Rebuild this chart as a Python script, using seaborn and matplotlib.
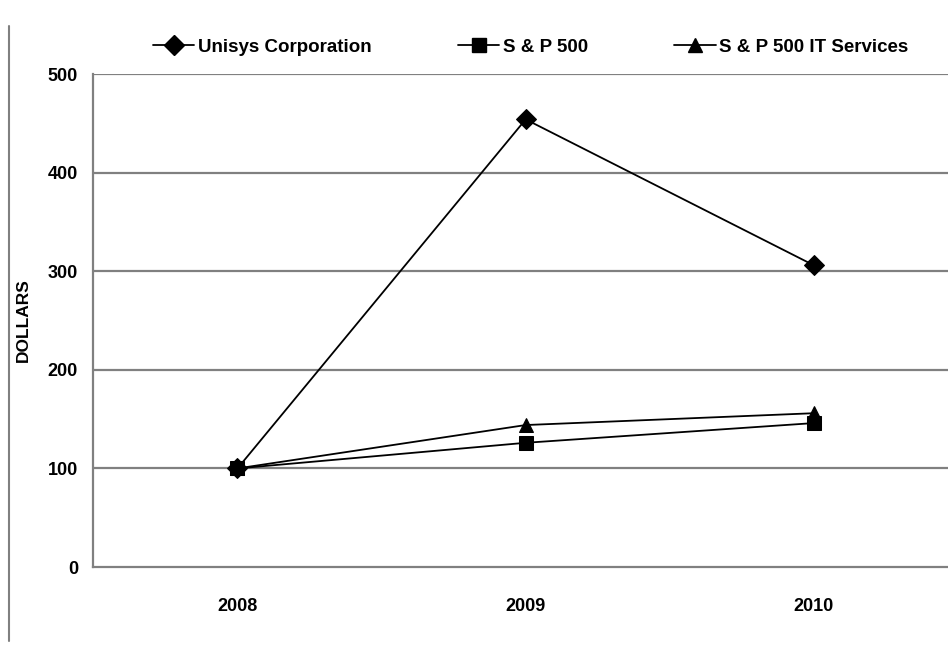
import numpy as np
import pandas as pd
import seaborn as sns
import matplotlib.pyplot as plt
from matplotlib.lines import Line2D

years = ['2008', '2009', '2010']
unisys = [100, 454, 306]
sp500 = [100, 126, 146]
sp500_it = [100, 144, 156]
series_names = ['Unisys Corporation', 'S & P 500', 'S & P 500 IT Services']
y_ticks = [0, 100, 200, 300, 400, 500]

df = pd.DataFrame({
    'year': years * 3,
    'value': unisys + sp500 + sp500_it,
    'series': [series_names[0]] * 3 + [series_names[1]] * 3 + [series_names[2]] * 3,
})
df['pos'] = df['year'].map({y: i for i, y in enumerate(years)})

sns.set_style('white')
plt.rcParams['font.family'] = ['Liberation Sans', 'DejaVu Sans']
plt.rcParams['font.weight'] = 'bold'
plt.rcParams['text.color'] = 'black'
plt.rcParams['xtick.labelcolor'] = 'black'
plt.rcParams['ytick.labelcolor'] = 'black'
plt.rcParams['axes.labelcolor'] = 'black'

fig = plt.figure(figsize=(9.48, 6.47), dpi=100)
# the plot area runs a little past the right edge of the page
ax = fig.add_axes([0.0985, 0.1236, 0.912, 0.762])

# grid lines first so they sit under the data
for t in y_ticks[1:]:
    ax.axhline(t, color='#808080', lw=1.6, zorder=0)

sns.lineplot(data=df, x='pos', y='value', hue='series', style='series',
             palette=['black'] * 3, markers=['D', 's', '^'], dashes=False,
             markersize=10, markeredgecolor='black', linewidth=1.3,
             legend=False, ax=ax, zorder=3)

ax.set_xlim(-0.5, 2.5)
ax.set_ylim(0, 500)
ax.set_yticks(y_ticks)
ax.set_yticklabels([str(t) for t in y_ticks], fontsize=13, fontweight='bold')
ax.set_xticks(range(len(years)))
ax.set_xticklabels(years, fontsize=13, fontweight='bold')
ax.tick_params(axis='x', which='major', length=0, pad=22)
ax.set_xticks([-0.5, 0.5, 1.5, 2.5], minor=True)
ax.tick_params(axis='x', which='minor', length=6, color='#808080', width=1.5)
ax.tick_params(axis='y', length=6, color='#808080', width=1.5, pad=5)
ax.set_xlabel('')
ax.set_ylabel('DOLLARS', fontsize=12.5, fontweight='bold', labelpad=12)

for s in ['top', 'right']:
    ax.spines[s].set_visible(False)
for s in ['left', 'bottom']:
    ax.spines[s].set_color('#808080')
    ax.spines[s].set_linewidth(1.6)

handles = [Line2D([], [], color='black', marker=m, markersize=10, lw=1.3)
           for m in ['D', 's', '^']]
fig.legend(handles, series_names, loc='center', bbox_to_anchor=(0.56, 0.927),
           ncol=3, frameon=False, handlelength=2.2,
           handletextpad=0.2, columnspacing=4.6,
           prop={'weight': 'bold', 'size': 13.5})

# thin frame line along the left edge of the page
fig.add_artist(Line2D([0.009, 0.009], [0.01, 0.96], color='#808080', lw=1.5,
                      transform=fig.transFigure))

fig.savefig('out.png', dpi=100)
